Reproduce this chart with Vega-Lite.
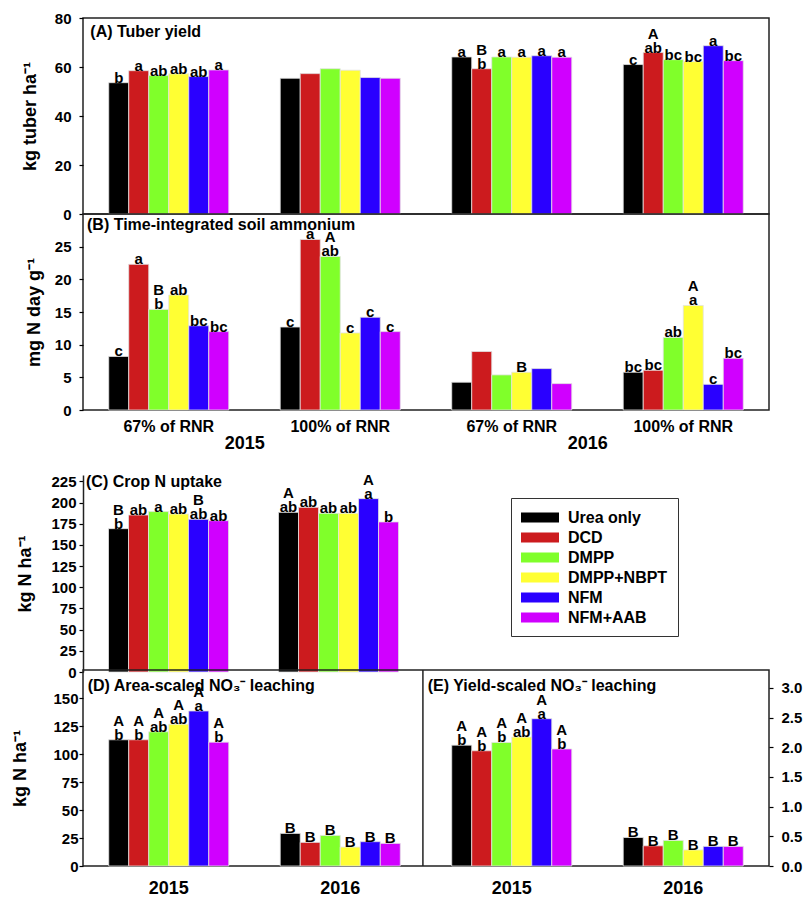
{
  "$schema": "https://vega.github.io/schema/vega-lite/v6.json",
  "padding": {"left": 10, "top": 10, "right": 2, "bottom": 2},
  "config": {
    "font": "Liberation Sans",
    "view": {"stroke": "#222", "strokeWidth": 1.5},
    "axis": {"labelFont": "Liberation Sans", "labelFontWeight": "bold", "labelFontSize": 15, "labelColor": "#000", "titleFont": "Liberation Sans", "titleFontSize": 18, "titleFontWeight": "bold", "titleColor": "#000", "grid": false, "domain": false, "tickColor": "#000", "tickWidth": 1.2, "tickSize": 4, "labelOverlap": false},
    "text": {"font": "Liberation Sans"}
  },
  "datasets": {
    "d": [
      {"p":"A","g":"2015 67% of RNR","t":"Urea only","v":53.6,"l":"b"},
      {"p":"A","g":"2015 67% of RNR","t":"DCD","v":58.5,"l":"a"},
      {"p":"A","g":"2015 67% of RNR","t":"DMPP","v":56.5,"l":"ab"},
      {"p":"A","g":"2015 67% of RNR","t":"DMPP+NBPT","v":57.2,"l":"ab"},
      {"p":"A","g":"2015 67% of RNR","t":"NFM","v":56.1,"l":"ab"},
      {"p":"A","g":"2015 67% of RNR","t":"NFM+AAB","v":58.8,"l":"a"},
      {"p":"A","g":"2015 100% of RNR","t":"Urea only","v":55.4,"l":""},
      {"p":"A","g":"2015 100% of RNR","t":"DCD","v":57.3,"l":""},
      {"p":"A","g":"2015 100% of RNR","t":"DMPP","v":59.3,"l":""},
      {"p":"A","g":"2015 100% of RNR","t":"DMPP+NBPT","v":58.7,"l":""},
      {"p":"A","g":"2015 100% of RNR","t":"NFM","v":55.7,"l":""},
      {"p":"A","g":"2015 100% of RNR","t":"NFM+AAB","v":55.4,"l":""},
      {"p":"A","g":"2016 67% of RNR","t":"Urea only","v":64.1,"l":"a"},
      {"p":"A","g":"2016 67% of RNR","t":"DCD","v":59.3,"l":"b","u":"B"},
      {"p":"A","g":"2016 67% of RNR","t":"DMPP","v":64.1,"l":"a"},
      {"p":"A","g":"2016 67% of RNR","t":"DMPP+NBPT","v":64.0,"l":"a"},
      {"p":"A","g":"2016 67% of RNR","t":"NFM","v":64.6,"l":"a"},
      {"p":"A","g":"2016 67% of RNR","t":"NFM+AAB","v":64.0,"l":"a"},
      {"p":"A","g":"2016 100% of RNR","t":"Urea only","v":61.0,"l":"c"},
      {"p":"A","g":"2016 100% of RNR","t":"DCD","v":65.9,"l":"ab","u":"A"},
      {"p":"A","g":"2016 100% of RNR","t":"DMPP","v":63.0,"l":"bc"},
      {"p":"A","g":"2016 100% of RNR","t":"DMPP+NBPT","v":62.2,"l":"bc"},
      {"p":"A","g":"2016 100% of RNR","t":"NFM","v":68.7,"l":"a"},
      {"p":"A","g":"2016 100% of RNR","t":"NFM+AAB","v":62.6,"l":"bc"},
      {"p":"B","g":"2015 67% of RNR","t":"Urea only","v":8.2,"l":"c"},
      {"p":"B","g":"2015 67% of RNR","t":"DCD","v":22.3,"l":"a"},
      {"p":"B","g":"2015 67% of RNR","t":"DMPP","v":15.4,"l":"b","u":"B"},
      {"p":"B","g":"2015 67% of RNR","t":"DMPP+NBPT","v":17.6,"l":"ab"},
      {"p":"B","g":"2015 67% of RNR","t":"NFM","v":12.9,"l":"bc"},
      {"p":"B","g":"2015 67% of RNR","t":"NFM+AAB","v":12.0,"l":"bc"},
      {"p":"B","g":"2015 100% of RNR","t":"Urea only","v":12.7,"l":"c"},
      {"p":"B","g":"2015 100% of RNR","t":"DCD","v":26.1,"l":"a"},
      {"p":"B","g":"2015 100% of RNR","t":"DMPP","v":23.5,"l":"ab","u":"A"},
      {"p":"B","g":"2015 100% of RNR","t":"DMPP+NBPT","v":11.8,"l":"c"},
      {"p":"B","g":"2015 100% of RNR","t":"NFM","v":14.2,"l":"c"},
      {"p":"B","g":"2015 100% of RNR","t":"NFM+AAB","v":12.0,"l":"c"},
      {"p":"B","g":"2016 67% of RNR","t":"Urea only","v":4.25,"l":""},
      {"p":"B","g":"2016 67% of RNR","t":"DCD","v":8.95,"l":""},
      {"p":"B","g":"2016 67% of RNR","t":"DMPP","v":5.37,"l":""},
      {"p":"B","g":"2016 67% of RNR","t":"DMPP+NBPT","v":5.78,"l":"B"},
      {"p":"B","g":"2016 67% of RNR","t":"NFM","v":6.34,"l":""},
      {"p":"B","g":"2016 67% of RNR","t":"NFM+AAB","v":4.04,"l":""},
      {"p":"B","g":"2016 100% of RNR","t":"Urea only","v":5.78,"l":"bc"},
      {"p":"B","g":"2016 100% of RNR","t":"DCD","v":6.08,"l":"bc"},
      {"p":"B","g":"2016 100% of RNR","t":"DMPP","v":11.1,"l":"ab"},
      {"p":"B","g":"2016 100% of RNR","t":"DMPP+NBPT","v":16.0,"l":"a","u":"A"},
      {"p":"B","g":"2016 100% of RNR","t":"NFM","v":3.93,"l":"c"},
      {"p":"B","g":"2016 100% of RNR","t":"NFM+AAB","v":7.92,"l":"bc"},
      {"p":"C","g":"2015","t":"Urea only","v":169.2,"l":"b","u":"B"},
      {"p":"C","g":"2015","t":"DCD","v":185.3,"l":"ab"},
      {"p":"C","g":"2015","t":"DMPP","v":189.3,"l":"a"},
      {"p":"C","g":"2015","t":"DMPP+NBPT","v":186.5,"l":"ab"},
      {"p":"C","g":"2015","t":"NFM","v":180.2,"l":"ab","u":"B"},
      {"p":"C","g":"2015","t":"NFM+AAB","v":178.6,"l":"ab"},
      {"p":"C","g":"2016","t":"Urea only","v":188.4,"l":"ab","u":"A"},
      {"p":"C","g":"2016","t":"DCD","v":194.3,"l":"ab"},
      {"p":"C","g":"2016","t":"DMPP","v":187.3,"l":"ab"},
      {"p":"C","g":"2016","t":"DMPP+NBPT","v":187.3,"l":"ab"},
      {"p":"C","g":"2016","t":"NFM","v":204.6,"l":"a","u":"A"},
      {"p":"C","g":"2016","t":"NFM+AAB","v":177.1,"l":"b"},
      {"p":"D","g":"D2015","t":"Urea only","v":112.7,"l":"b","u":"A"},
      {"p":"D","g":"D2015","t":"DCD","v":112.7,"l":"b","u":"A"},
      {"p":"D","g":"D2015","t":"DMPP","v":119.8,"l":"ab","u":"A"},
      {"p":"D","g":"D2015","t":"DMPP+NBPT","v":126.6,"l":"ab","u":"A"},
      {"p":"D","g":"D2015","t":"NFM","v":138.4,"l":"a","u":"A"},
      {"p":"D","g":"D2015","t":"NFM+AAB","v":110.6,"l":"b","u":"A"},
      {"p":"D","g":"D2016","t":"Urea only","v":29.1,"l":"B"},
      {"p":"D","g":"D2016","t":"DCD","v":21.1,"l":"B"},
      {"p":"D","g":"D2016","t":"DMPP","v":27.3,"l":"B"},
      {"p":"D","g":"D2016","t":"DMPP+NBPT","v":16.9,"l":"B"},
      {"p":"D","g":"D2016","t":"NFM","v":21.7,"l":"B"},
      {"p":"D","g":"D2016","t":"NFM+AAB","v":20.2,"l":"B"},
      {"p":"E","g":"E2015","t":"Urea only","v":2.035,"l":"b","u":"A"},
      {"p":"E","g":"E2015","t":"DCD","v":1.94,"l":"b","u":"A"},
      {"p":"E","g":"E2015","t":"DMPP","v":2.08,"l":"b","u":"A"},
      {"p":"E","g":"E2015","t":"DMPP+NBPT","v":2.17,"l":"ab","u":"A"},
      {"p":"E","g":"E2015","t":"NFM","v":2.48,"l":"a","u":"A"},
      {"p":"E","g":"E2015","t":"NFM+AAB","v":1.97,"l":"b","u":"A"},
      {"p":"E","g":"E2016","t":"Urea only","v":0.48,"l":"B"},
      {"p":"E","g":"E2016","t":"DCD","v":0.34,"l":"B"},
      {"p":"E","g":"E2016","t":"DMPP","v":0.43,"l":"B"},
      {"p":"E","g":"E2016","t":"DMPP+NBPT","v":0.27,"l":"B"},
      {"p":"E","g":"E2016","t":"NFM","v":0.33,"l":"B"},
      {"p":"E","g":"E2016","t":"NFM+AAB","v":0.33,"l":"B"}
    ]
  },
  "data": {"name": "d"},
  "resolve": {"legend": {"color": "independent"}},
  "columns": 1,
  "align": "none",
  "spacing": 19,
  "concat": [
    {
      "columns": 1,
      "align": "none",
      "spacing": -10,
      "resolve": {"legend": {"color": "independent"}},
      "concat": [
        {
          "width": 686, "height": 196,
          "layer": [
            {
              "transform": [{"filter": "datum.p === 'A'"}],
              "encoding": {
                "x": {"field": "g", "type": "nominal", "scale": {"domain": ["2015 67% of RNR","2015 100% of RNR","2016 67% of RNR","2016 100% of RNR"], "paddingInner": 0.3, "paddingOuter": 0.15}, "axis": null},
                "xOffset": {"field": "t", "type": "nominal", "scale": {"domain": ["Urea only","DCD","DMPP","DMPP+NBPT","NFM","NFM+AAB"], "paddingInner": 0, "paddingOuter": 0}},
                "y": {"field": "v", "type": "quantitative", "scale": {"domain": [0, 80], "nice": false}, "axis": {"values": [0,20,40,60,80], "title": "kg tuber ha⁻¹", "minExtent": 30, "maxExtent": 30, "labelPadding": 8, "titlePadding": 14}}
              },
              "layer": [
                {"mark": {"type": "bar", "stroke": "#e2e2e2", "strokeWidth": 0.8}, "encoding": {"color": {"field": "t", "type": "nominal", "scale": {"domain": ["Urea only","DCD","DMPP","DMPP+NBPT","NFM","NFM+AAB"], "range": ["#000000","#CC1B1E","#80FF2A","#FFFF33","#2A00FF","#D000FF"]}, "legend": null}}},
                {"mark": {"type": "text", "baseline": "bottom", "dy": 3, "fontSize": 15, "fontWeight": "bold", "color": "#000"}, "encoding": {"text": {"field": "l"}}},
                {"transform": [{"filter": "isValid(datum.u)"}], "mark": {"type": "text", "baseline": "bottom", "dy": -11, "fontSize": 15, "fontWeight": "bold", "color": "#000"}, "encoding": {"text": {"field": "u"}}}
              ]
            },
            {
              "data": {"values": [{}]},
              "mark": {"type": "text", "text": "(A) Tuber yield", "align": "left", "baseline": "top", "dx": -18.4, "dy": 6, "fontSize": 16, "fontWeight": "bold", "color": "#000"},
              "encoding": {
                "x": {"datum": "2015 67% of RNR", "type": "nominal", "bandPosition": 0, "scale": {"domain": ["2015 67% of RNR","2015 100% of RNR","2016 67% of RNR","2016 100% of RNR"]}, "axis": null},
                "y": {"datum": 80, "type": "quantitative", "scale": {"domain": [0, 80], "nice": false}, "axis": {"values": [0,20,40,60,80], "title": "kg tuber ha⁻¹", "minExtent": 30, "maxExtent": 30, "labelPadding": 8, "titlePadding": 14}}
              }
            }
          ]
        },
        {
          "width": 686, "height": 196,
          "resolve": {"axis": {"x": "independent"}},
          "layer": [
            {
              "transform": [{"filter": "datum.p === 'B'"}],
              "resolve": {"axis": {"x": "independent"}},
              "encoding": {
                "xOffset": {"field": "t", "type": "nominal", "scale": {"domain": ["Urea only","DCD","DMPP","DMPP+NBPT","NFM","NFM+AAB"], "paddingInner": 0, "paddingOuter": 0}},
                "y": {"field": "v", "type": "quantitative", "scale": {"domain": [0, 30], "nice": false}, "axis": {"values": [0,5,10,15,20,25], "title": "mg N day g⁻¹", "minExtent": 30, "maxExtent": 30, "labelPadding": 8, "titlePadding": 10}}
              },
              "layer": [
                {"mark": {"type": "bar", "stroke": "#e2e2e2", "strokeWidth": 0.8},
                 "encoding": {
                   "x": {"field": "g", "type": "nominal", "scale": {"domain": ["2015 67% of RNR","2015 100% of RNR","2016 67% of RNR","2016 100% of RNR"], "paddingInner": 0.3, "paddingOuter": 0.15}, "axis": {"orient": "bottom", "title": null, "labelExpr": "slice(datum.value, 5)", "labelFontSize": 16, "labelAngle": 0, "ticks": false, "tickSize": 0, "labelPadding": 8, "domain": false}},
                   "color": {"field": "t", "type": "nominal", "scale": {"domain": ["Urea only","DCD","DMPP","DMPP+NBPT","NFM","NFM+AAB"], "range": ["#000000","#CC1B1E","#80FF2A","#FFFF33","#2A00FF","#D000FF"]}, "legend": null}}},
                {"mark": {"type": "text", "baseline": "bottom", "dy": 3, "fontSize": 15, "fontWeight": "bold", "color": "#000"},
                 "encoding": {
                   "x": {"field": "g", "type": "nominal", "scale": {"domain": ["2015 67% of RNR","2015 100% of RNR","2016 67% of RNR","2016 100% of RNR"]}, "axis": {"orient": "bottom", "title": null, "labelExpr": "indexof(datum.value, '67%') >= 0 ? slice(datum.value, 0, 4) : ''", "labelOffset": 76, "labelFontSize": 18, "labelAngle": 0, "ticks": false, "tickSize": 0, "labelPadding": 24, "domain": false}},
                   "text": {"field": "l"}}},
                {"transform": [{"filter": "isValid(datum.u)"}], "mark": {"type": "text", "baseline": "bottom", "dy": -11, "fontSize": 15, "fontWeight": "bold", "color": "#000"},
                 "encoding": {
                   "x": {"field": "g", "type": "nominal", "scale": {"domain": ["2015 67% of RNR","2015 100% of RNR","2016 67% of RNR","2016 100% of RNR"]}, "axis": null},
                   "text": {"field": "u"}}}
              ]
            },
            {
              "data": {"values": [{}]},
              "mark": {"type": "text", "text": "(B) Time-integrated soil ammonium", "align": "left", "baseline": "top", "dx": -21.7, "dy": 3.3, "fontSize": 16, "fontWeight": "bold", "color": "#000"},
              "encoding": {
                "x": {"datum": "2015 67% of RNR", "type": "nominal", "bandPosition": 0, "scale": {"domain": ["2015 67% of RNR","2015 100% of RNR","2016 67% of RNR","2016 100% of RNR"]}, "axis": null},
                "y": {"datum": 30, "type": "quantitative", "scale": {"domain": [0, 30], "nice": false}, "axis": {"values": [0,5,10,15,20,25], "title": "mg N day g⁻¹", "minExtent": 30, "maxExtent": 30, "labelPadding": 8, "titlePadding": 10}}
              }
            }
          ]
        }
      ]
    },
    {
      "columns": 1,
      "align": "none",
      "spacing": -12,
      "resolve": {"legend": {"color": "independent"}},
      "concat": [
        {
          "width": 340, "height": 197,
          "view": {"stroke": null},
          "layer": [
            {
              "transform": [{"filter": "datum.p === 'C'"}],
              "encoding": {
                "x": {"field": "g", "type": "nominal", "scale": {"domain": ["2015","2016"], "paddingInner": 0.3, "paddingOuter": 0.15}, "axis": null},
                "xOffset": {"field": "t", "type": "nominal", "scale": {"domain": ["Urea only","DCD","DMPP","DMPP+NBPT","NFM","NFM+AAB"], "paddingInner": 0, "paddingOuter": 0}},
                "y": {"field": "v", "type": "quantitative", "scale": {"domain": [0, 232.5], "nice": false}, "axis": {"values": [0,25,50,75,100,125,150,175,200,225], "title": "kg N ha⁻¹", "minExtent": 30, "maxExtent": 30, "labelPadding": 3, "titlePadding": 19, "domain": true, "domainColor": "#222", "domainWidth": 1.5}}
              },
              "layer": [
                {"mark": {"type": "bar", "stroke": "#e2e2e2", "strokeWidth": 0.8}, "encoding": {"color": {"field": "t", "type": "nominal", "scale": {"domain": ["Urea only","DCD","DMPP","DMPP+NBPT","NFM","NFM+AAB"], "range": ["#000000","#CC1B1E","#80FF2A","#FFFF33","#2A00FF","#D000FF"]},
                  "legend": {"orient": "none", "legendX": 428, "legendY": 23, "title": null, "values": ["Urea only","DCD","DMPP","DMPP+NBPT","NFM","NFM+AAB"], "symbolType": "M-1,-0.53H3V0.53H-1Z", "symbolSize": 361, "symbolStrokeWidth": 0, "symbolOpacity": 1, "labelOffset": 28, "rowPadding": 2, "padding": 10, "strokeColor": "#333", "labelFont": "Liberation Sans", "labelFontSize": 16, "labelFontWeight": "bold", "labelColor": "#000"}}}},
                {"mark": {"type": "text", "baseline": "bottom", "dy": 3, "fontSize": 15, "fontWeight": "bold", "color": "#000"}, "encoding": {"text": {"field": "l"}}},
                {"transform": [{"filter": "isValid(datum.u)"}], "mark": {"type": "text", "baseline": "bottom", "dy": -11, "fontSize": 15, "fontWeight": "bold", "color": "#000"}, "encoding": {"text": {"field": "u"}}}
              ]
            },
            {
              "data": {"values": [{}]},
              "mark": {"type": "text", "text": "(C) Crop N uptake", "align": "left", "baseline": "top", "dx": -22.5, "dy": -1, "fontSize": 16, "fontWeight": "bold", "color": "#000"},
              "encoding": {
                "x": {"datum": "2015", "type": "nominal", "bandPosition": 0, "scale": {"domain": ["2015","2016"]}, "axis": null},
                "y": {"datum": 232.5, "type": "quantitative", "scale": {"domain": [0, 232.5], "nice": false}, "axis": {"values": [0,25,50,75,100,125,150,175,200,225], "title": "kg N ha⁻¹", "minExtent": 30, "maxExtent": 30, "labelPadding": 3, "titlePadding": 19, "domain": true, "domainColor": "#222", "domainWidth": 1.5}}
              }
            }
          ]
        },
        {
          "width": 686, "height": 196,
          "resolve": {"scale": {"y": "independent"}, "axis": {"y": "independent"}},
          "layer": [
            {
              "layer": [
                {
                  "transform": [{"filter": "datum.p === 'D'"}],
                  "encoding": {
                    "x": {"field": "g", "type": "nominal", "scale": {"domain": ["D2015","D2016","E2015","E2016"], "paddingInner": 0.3, "paddingOuter": 0.15}, "axis": {"orient": "bottom", "title": null, "labelExpr": "slice(datum.value, 1)", "labelFontSize": 18, "labelAngle": 0, "ticks": false, "tickSize": 0, "labelPadding": 13, "domain": false}},
                    "xOffset": {"field": "t", "type": "nominal", "scale": {"domain": ["Urea only","DCD","DMPP","DMPP+NBPT","NFM","NFM+AAB"], "paddingInner": 0, "paddingOuter": 0}},
                    "y": {"field": "v", "type": "quantitative", "scale": {"domain": [0, 175], "nice": false}, "axis": {"orient": "left", "values": [0,25,50,75,100,125,150], "title": "kg N ha⁻¹", "minExtent": 30, "maxExtent": 30, "labelPadding": 1, "titlePadding": 24}}
                  },
                  "layer": [
                    {"mark": {"type": "bar", "stroke": "#e2e2e2", "strokeWidth": 0.8}, "encoding": {"color": {"field": "t", "type": "nominal", "scale": {"domain": ["Urea only","DCD","DMPP","DMPP+NBPT","NFM","NFM+AAB"], "range": ["#000000","#CC1B1E","#80FF2A","#FFFF33","#2A00FF","#D000FF"]}, "legend": null}}},
                    {"mark": {"type": "text", "baseline": "bottom", "dy": 3, "fontSize": 15, "fontWeight": "bold", "color": "#000"}, "encoding": {"text": {"field": "l"}}},
                    {"transform": [{"filter": "isValid(datum.u)"}], "mark": {"type": "text", "baseline": "bottom", "dy": -11, "fontSize": 15, "fontWeight": "bold", "color": "#000"}, "encoding": {"text": {"field": "u"}}}
                  ]
                },
                {
                  "data": {"values": [{}]},
                  "mark": {"type": "text", "text": "(D) Area-scaled NO₃⁻ leaching", "align": "left", "baseline": "top", "dx": -21, "dy": 7.7, "fontSize": 16, "fontWeight": "bold", "color": "#000"},
                  "encoding": {
                    "x": {"datum": "D2015", "type": "nominal", "bandPosition": 0, "scale": {"domain": ["D2015","D2016","E2015","E2016"]}, "axis": {"orient": "bottom", "title": null, "labelExpr": "slice(datum.value, 1)", "labelFontSize": 18, "labelAngle": 0, "ticks": false, "tickSize": 0, "labelPadding": 13, "domain": false}},
                    "y": {"datum": 175, "type": "quantitative", "scale": {"domain": [0, 175], "nice": false}, "axis": {"orient": "left", "values": [0,25,50,75,100,125,150], "title": "kg N ha⁻¹", "minExtent": 30, "maxExtent": 30, "labelPadding": 1, "titlePadding": 24}}
                  }
                }
              ]
            },
            {
              "layer": [
                {
                  "transform": [{"filter": "datum.p === 'E'"}],
                  "encoding": {
                    "x": {"field": "g", "type": "nominal", "scale": {"domain": ["D2015","D2016","E2015","E2016"]}, "axis": {"orient": "bottom", "title": null, "labelExpr": "slice(datum.value, 1)", "labelFontSize": 18, "labelAngle": 0, "ticks": false, "tickSize": 0, "labelPadding": 13, "domain": false}},
                    "xOffset": {"field": "t", "type": "nominal", "scale": {"domain": ["Urea only","DCD","DMPP","DMPP+NBPT","NFM","NFM+AAB"]}},
                    "y": {"field": "v", "type": "quantitative", "scale": {"domain": [0, 3.3], "nice": false}, "axis": {"orient": "right", "values": [0,0.5,1,1.5,2,2.5,3], "format": ".1f", "title": null, "labelPadding": 8}}
                  },
                  "layer": [
                    {"mark": {"type": "bar", "stroke": "#e2e2e2", "strokeWidth": 0.8}, "encoding": {"color": {"field": "t", "type": "nominal", "scale": {"domain": ["Urea only","DCD","DMPP","DMPP+NBPT","NFM","NFM+AAB"], "range": ["#000000","#CC1B1E","#80FF2A","#FFFF33","#2A00FF","#D000FF"]}, "legend": null}}},
                    {"mark": {"type": "text", "baseline": "bottom", "dy": 3, "fontSize": 15, "fontWeight": "bold", "color": "#000"}, "encoding": {"text": {"field": "l"}}},
                    {"transform": [{"filter": "isValid(datum.u)"}], "mark": {"type": "text", "baseline": "bottom", "dy": -11, "fontSize": 15, "fontWeight": "bold", "color": "#000"}, "encoding": {"text": {"field": "u"}}}
                  ]
                },
                {
                  "data": {"values": [{}]},
                  "mark": {"type": "text", "text": "(E) Yield-scaled NO₃⁻ leaching", "align": "left", "baseline": "top", "dx": -24, "dy": 7.7, "fontSize": 16, "fontWeight": "bold", "color": "#000"},
                  "encoding": {
                    "x": {"datum": "E2015", "type": "nominal", "bandPosition": 0, "scale": {"domain": ["D2015","D2016","E2015","E2016"]}, "axis": {"orient": "bottom", "title": null, "labelExpr": "slice(datum.value, 1)", "labelFontSize": 18, "labelAngle": 0, "ticks": false, "tickSize": 0, "labelPadding": 13, "domain": false}},
                    "y": {"datum": 3.3, "type": "quantitative", "scale": {"domain": [0, 3.3], "nice": false}, "axis": {"orient": "right", "values": [0,0.5,1,1.5,2,2.5,3], "format": ".1f", "title": null, "labelPadding": 8}}
                  }
                },
                {
                  "data": {"values": [{}]},
                  "mark": {"type": "rule", "color": "#222", "strokeWidth": 1.5},
                  "encoding": {
                    "x": {"datum": "E2015", "type": "nominal", "bandPosition": -0.24, "scale": {"domain": ["D2015","D2016","E2015","E2016"]}, "axis": {"orient": "bottom", "title": null, "labelExpr": "slice(datum.value, 1)", "labelFontSize": 18, "labelAngle": 0, "ticks": false, "tickSize": 0, "labelPadding": 13, "domain": false}}
                  }
                }
              ]
            }
          ]
        }
      ]
    }
  ]
}
